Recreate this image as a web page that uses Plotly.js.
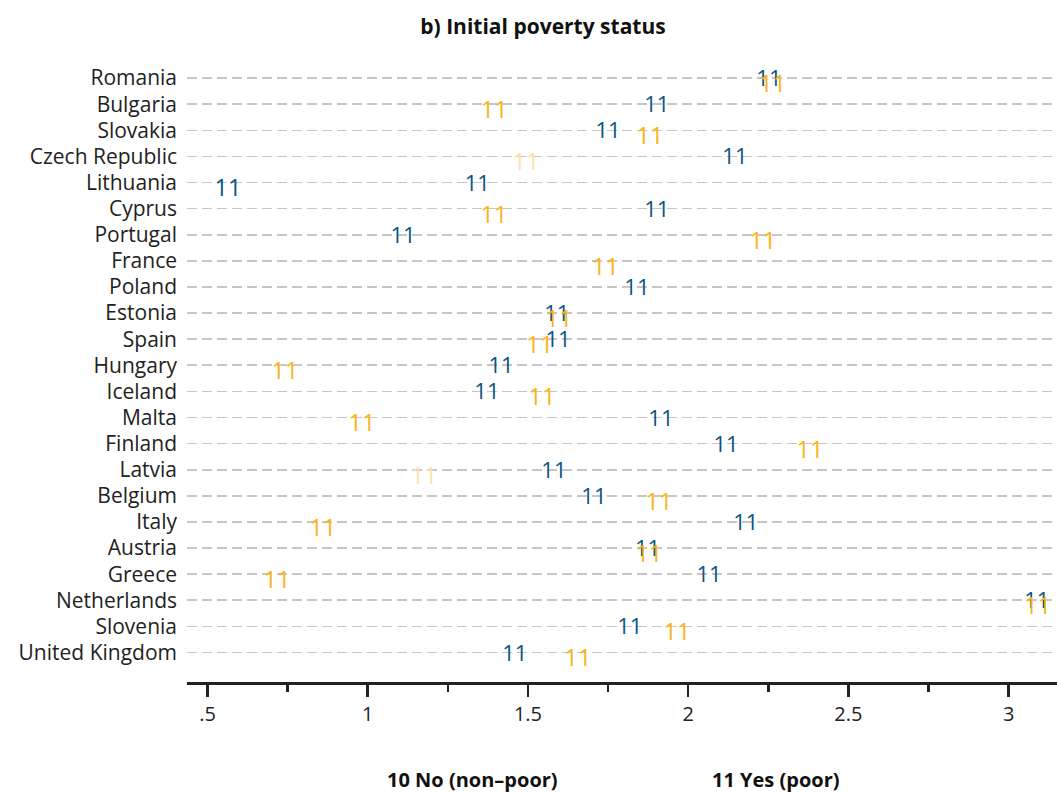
<!DOCTYPE html>
<html>
<head>
<meta charset="utf-8">
<script src="https://cdn.plot.ly/plotly-3.0.1.min.js"></script>
<style>html,body{margin:0;padding:0;background:#fff;}#chart{width:1057px;height:794px;}</style>
</head>
<body>
<div id="chart"></div>
<script>
// Countries, top to bottom as drawn
const countries = ["Romania","Bulgaria","Slovakia","Czech Republic","Lithuania","Cyprus","Portugal","France","Poland","Estonia","Spain","Hungary","Iceland","Malta","Finland","Latvia","Belgium","Italy","Austria","Greece","Netherlands","Slovenia","United Kingdom"];
// Series: 10 No (non-poor)
const noValues  = [2.252,1.902,1.750,2.146,1.342,1.902,1.110,null,1.840,1.590,1.594,1.416,1.372,1.915,2.118,1.581,1.706,2.180,1.873,2.065,3.088,1.818,1.459];
// Series: 11 Yes (poor)
const yesValues = [2.264,1.395,1.881,1.494,0.564,1.394,2.233,1.742,null,1.597,1.537,0.742,1.544,0.982,2.380,1.176,1.909,0.860,1.878,0.717,3.091,1.965,1.656];
// Display group of each "Yes" label: "sig", "ns" (faded) or "alt" (drawn in the No colour)
const yesGroup  = ["sig","sig","sig","ns","alt","sig","sig","sig","sig","sig","sig","sig","sig","sig","sig","ns","sig","sig","sig","sig","sig","sig","sig"];
const markLabel = "11";
const xTickVals = [0.5,1,1.5,2,2.5,3];
const xTickText = [".5","1","1.5","2","2.5","3"];
const xMinorVals = [0.75,1.25,1.75,2.25,2.75];
const legendLabels = ["10 No (non\u2013poor)","11 Yes (poor)"];
const titleText = "b) Initial poverty status";

const BLUE = "#0b5583", ORANGE = "#fbb416", PALE = "#fde3ad";
const groupColor = {sig: ORANGE, ns: PALE, alt: BLUE};
const catOrder = countries.slice().reverse();
const FONT = "Open Sans, Noto Sans, sans-serif";
const pxPerCat = 26.11;
const baseRange = [-1.13, 23.0];
const shifted = d => [baseRange[0] + d/pxPerCat, baseRange[1] + d/pxPerCat];

const traces = [
  { // helper: carries category labels & gridlines
    type: "scatter", mode: "markers", x: noValues.map(v => v === null ? 1 : v), y: countries,
    marker: {opacity: 0, size: 1}, hoverinfo: "skip", showlegend: false, yaxis: "y"
  },
  {
    type: "scatter", mode: "text", name: legendLabels[0],
    x: noValues, y: countries, text: countries.map(() => markLabel),
    textposition: "middle center", cliponaxis: false,
    textfont: {family: FONT, size: 22, color: BLUE},
    showlegend: false, yaxis: "y2"
  },
  {
    type: "scatter", mode: "text", name: legendLabels[1],
    x: yesValues, y: countries, text: countries.map(() => markLabel),
    textposition: "middle center", cliponaxis: false,
    textfont: {family: FONT, size: 23.5, color: yesGroup.map(g => groupColor[g])},
    showlegend: false, yaxis: "y3"
  }
];

const hiddenCat = (d) => ({
  type: "category", categoryorder: "array", categoryarray: catOrder,
  range: shifted(d), overlaying: "y", visible: false, fixedrange: true
});

const layout = {
  width: 1057, height: 794,
  margin: {l: 187, r: 0, t: 52, b: 112},
  paper_bgcolor: "#fff", plot_bgcolor: "#fff",
  font: {family: FONT, color: "#222"},
  showlegend: false,
  title: {text: "<b>" + titleText + "</b>", x: 543/1057, xanchor: "center", y: 1 - 27/794, yanchor: "middle",
          font: {family: FONT, size: 21, color: "#111"}},
  xaxis: {
    range: [0.436, 3.151], showgrid: false, zeroline: false,
    showline: true, linecolor: "#222", linewidth: 3,
    ticks: "outside", ticklen: 12, tickwidth: 2.5, tickcolor: "#222",
    tickmode: "array", tickvals: xTickVals, ticktext: xTickText,
    tickfont: {family: FONT, size: 20, color: "#222"}, ticklabelstandoff: 0,
    minor: {tickmode: "array", tickvals: xMinorVals, ticks: "outside", ticklen: 7, tickwidth: 2.5, tickcolor: "#222", showgrid: false},
    fixedrange: true
  },
  yaxis: {
    type: "category", categoryorder: "array", categoryarray: catOrder,
    range: baseRange, showgrid: true, gridcolor: "#c6c6c6", gridwidth: 1.6, griddash: "10px,5px",
    showline: false, zeroline: false, ticks: "", ticklabelstandoff: 9,
    tickfont: {family: FONT, size: 21, color: "#222"}, fixedrange: true
  },
  yaxis2: hiddenCat(2.5),
  yaxis3: hiddenCat(8),
  annotations: [
    {xref: "paper", yref: "paper", x: (472-187)/870, y: (682-780)/630, xanchor: "center", yanchor: "middle",
     text: "<b>" + legendLabels[0] + "</b>", showarrow: false, font: {family: FONT, size: 20, color: "#111"}},
    {xref: "paper", yref: "paper", x: (776-187)/870, y: (682-780)/630, xanchor: "center", yanchor: "middle",
     text: "<b>" + legendLabels[1] + "</b>", showarrow: false, font: {family: FONT, size: 20, color: "#111"}}
  ]
};

Plotly.newPlot("chart", traces, layout, {displayModeBar: false, staticPlot: true});
</script>
</body>
</html>
